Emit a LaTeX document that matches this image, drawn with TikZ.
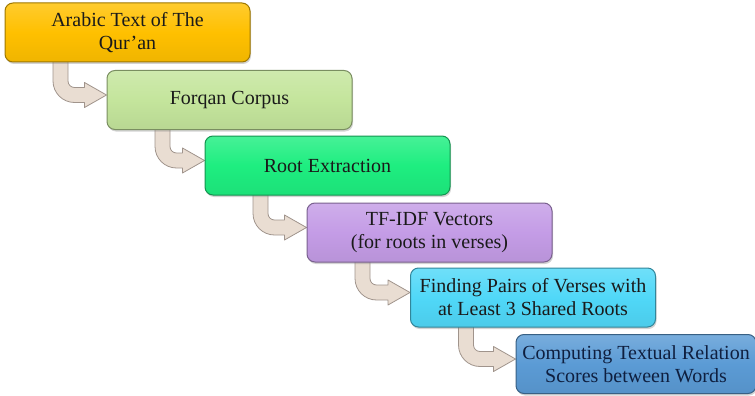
\documentclass[tikz,border=0pt]{standalone}
\usepackage{fontspec}
\setmainfont{Liberation Serif}
\usetikzlibrary{calc,shadows}
\pgfdeclarelayer{bg}
\pgfsetlayers{bg,main}
\definecolor{cA}{HTML}{FFC000}
\definecolor{cB}{HTML}{C4E59C}
\definecolor{cC}{HTML}{1EEE80}
\definecolor{cD}{HTML}{C49CE6}
\definecolor{cE}{HTML}{50D8F8}
\definecolor{cF}{HTML}{5B9BD5}
\definecolor{arrowfill}{HTML}{E9DDD2}
\definecolor{arrowline}{HTML}{A0948C}
\definecolor{txt}{HTML}{1A1A1A}
\definecolor{txtF}{HTML}{0F1F3F}
\tikzset{
  stepbox/.style={rounded corners=8pt, minimum width=245pt, minimum height=59pt,
    line width=1pt, draw=#1!62!black, top color=#1!82!white, bottom color=#1!94!black,
    middle color=#1, text=txt, align=center, inner sep=2pt,
    font=\fontsize{20}{23}\selectfont,
    drop shadow={opacity=0.35, shadow xshift=1pt, shadow yshift=-2pt}},
  bentarrow/.style={fill=arrowfill, draw=arrowline, line width=0.8pt, line join=round}
}
\newcommand{\bendarrow}[2]{%
  \coordinate (s#1) at ([xshift=56pt]#1.south west);
  \coordinate (e#1) at ([yshift=5pt]#2.west);
  \begin{pgfonlayer}{bg}
  \path[bentarrow]
    ($(s#1)+(-7.5,4)$) -- ($(s#1|-e#1)+(-7.5,14)$)
    arc[start angle=180, end angle=270, radius=21.5]
    -- ($(e#1)+(-22,-7.5)$) -- ($(e#1)+(-22,-12.5)$) -- (e#1)
    -- ($(e#1)+(-22,12.5)$) -- ($(e#1)+(-22,7.5)$)
    -- ($(s#1|-e#1)+(14,7.5)$)
    arc[start angle=270, end angle=180, radius=6.5]
    -- ($(s#1)+(7.5,4)$) -- cycle;
  \end{pgfonlayer}
}
\begin{document}
\begin{tikzpicture}[x=1pt,y=1pt]
\useasboundingbox (0,0) rectangle (755,-396);
\node[stepbox=cA] (b1) at (127.5,-32.5) {Arabic Text of The\\Qur’an};
\node[stepbox=cB] (b2) at (229.5,-100) {Forqan Corpus};
\node[stepbox=cC] (b3) at (327.5,-165.5) {Root Extraction};
\node[stepbox=cD] (b4) at (429.5,-232.5) {TF-IDF Vectors\\(for roots in verses)};
\node[stepbox=cE] (b5) at (533,-297.5) {Finding Pairs of Verses with\\at Least 3 Shared Roots};
\node[stepbox=cF, minimum width=240pt, text=txtF] (b6) at (636,-364) {Computing Textual Relation\\Scores between Words};
\bendarrow{b1}{b2}
\bendarrow{b2}{b3}
\bendarrow{b3}{b4}
\bendarrow{b4}{b5}
\bendarrow{b5}{b6}
\end{tikzpicture}
\end{document}
